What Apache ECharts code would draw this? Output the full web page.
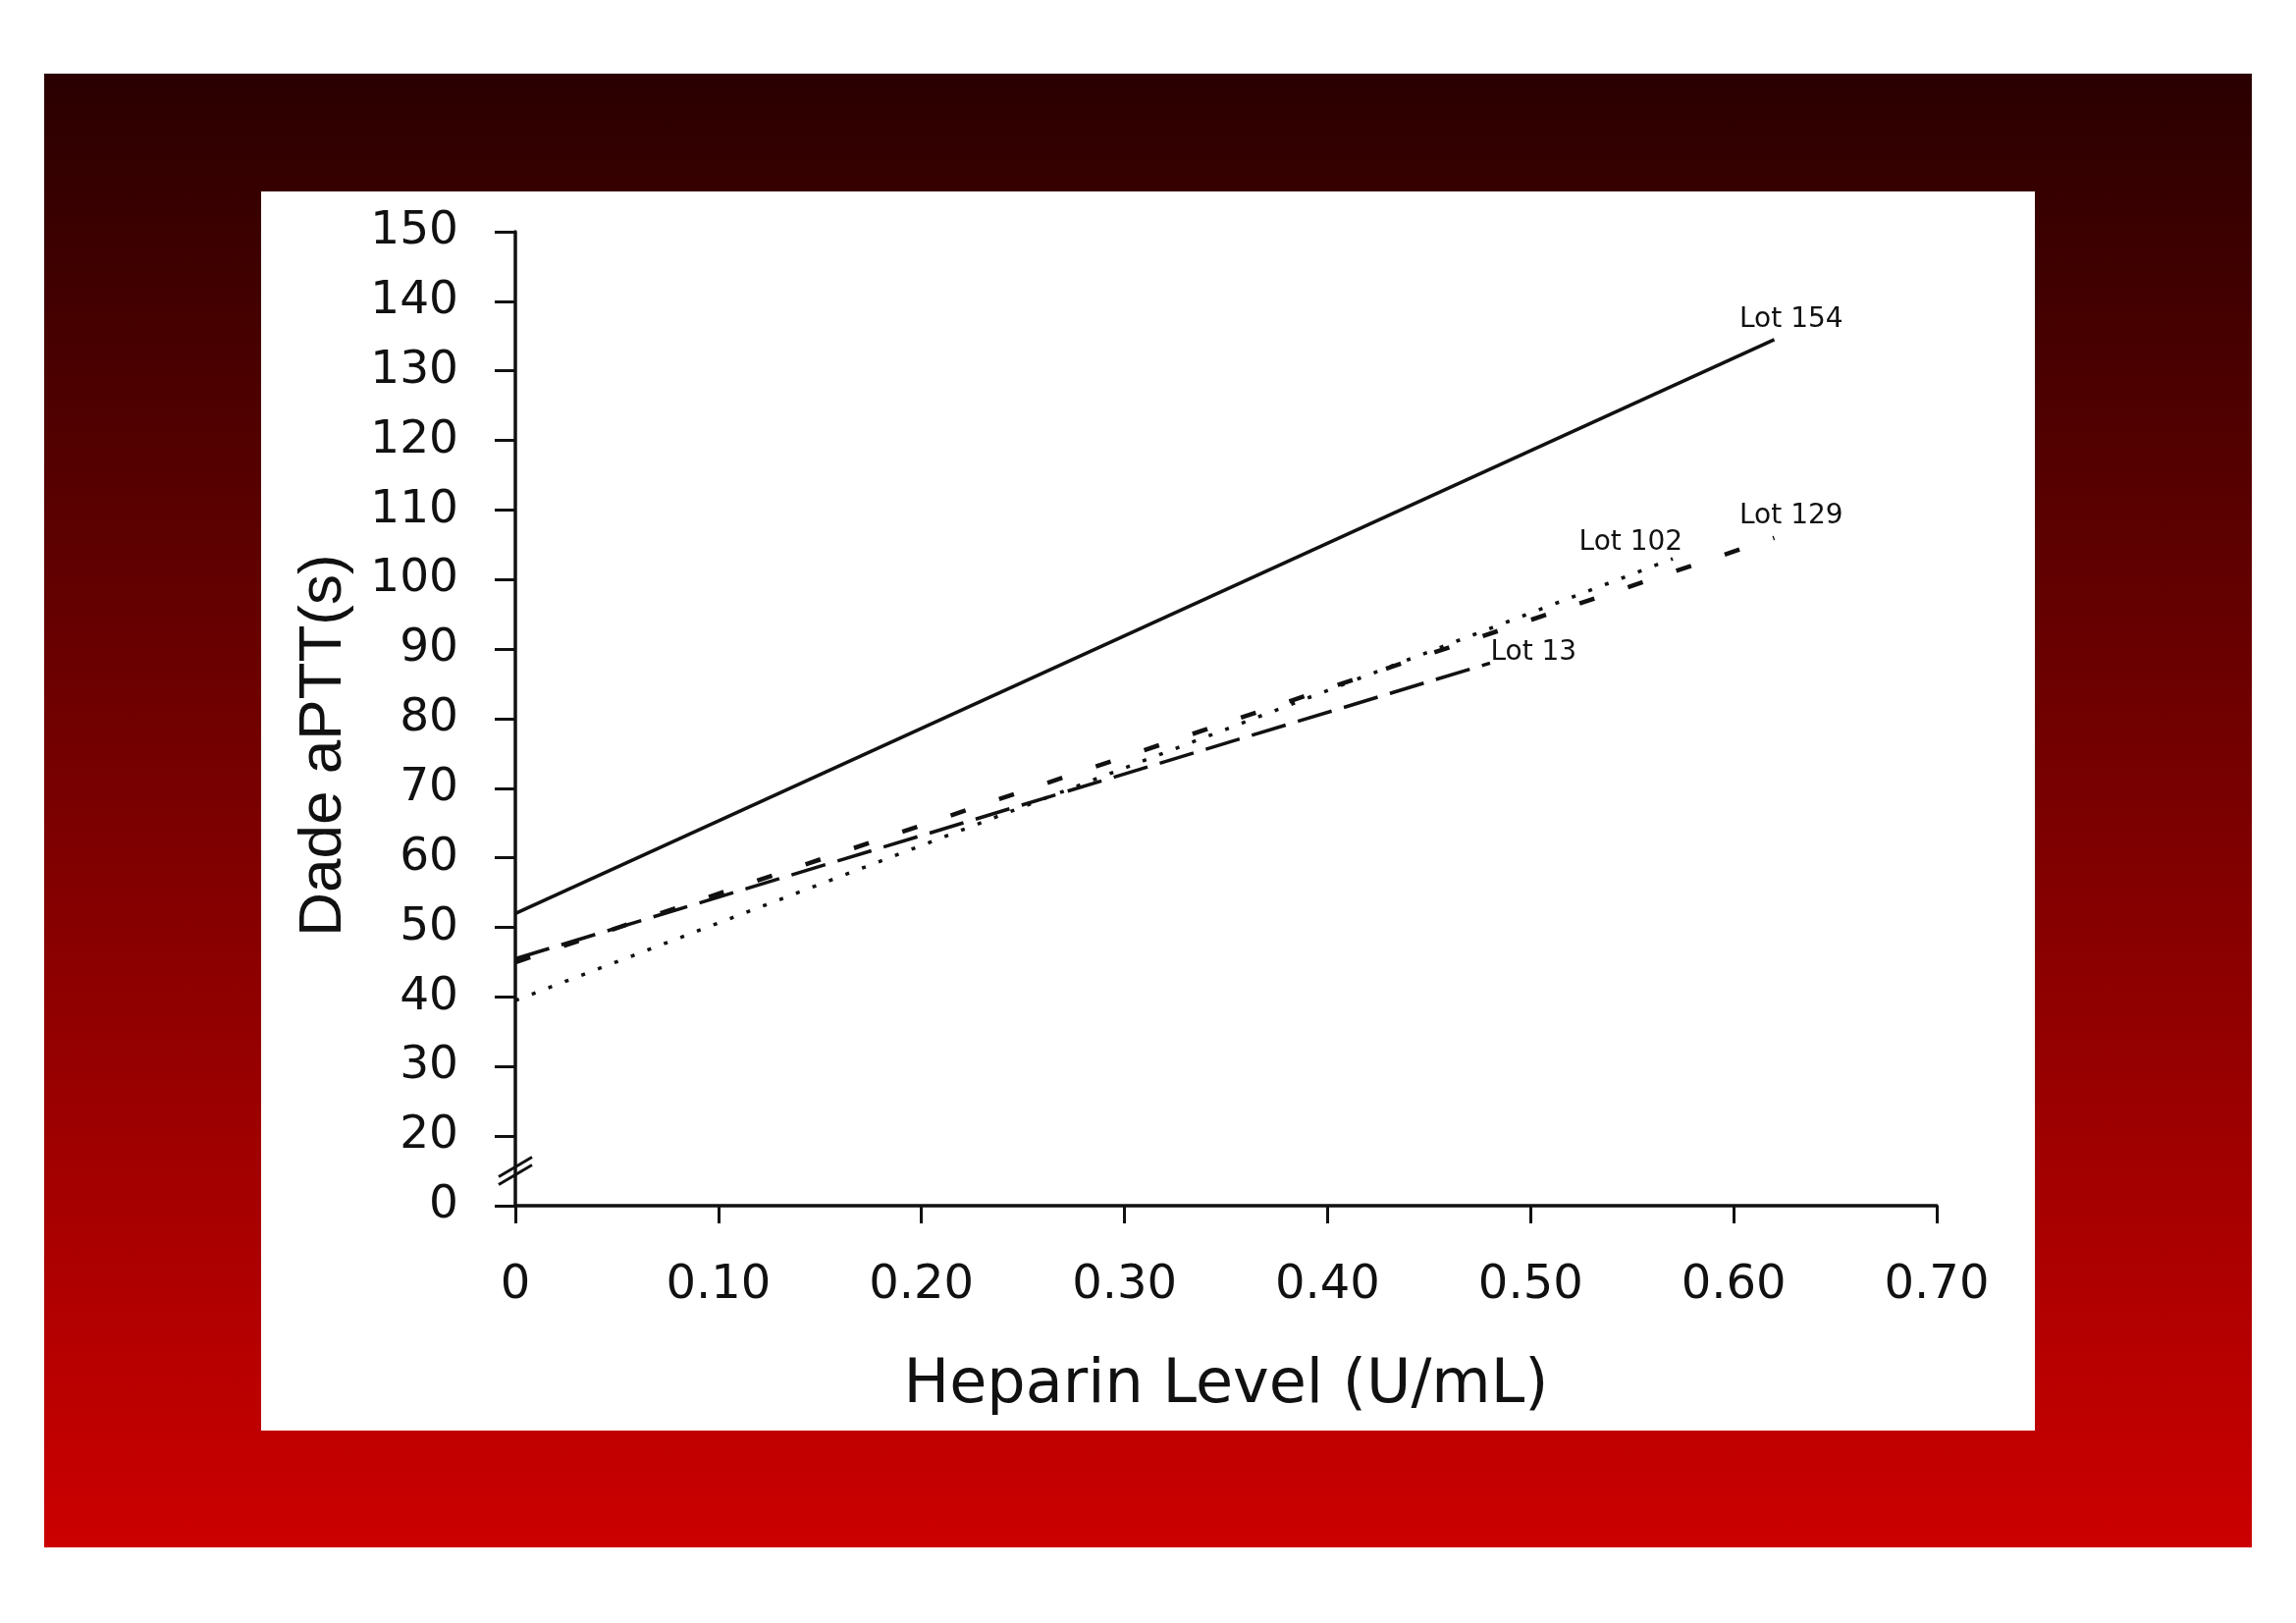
<!DOCTYPE html>
<html>
<head>
<meta charset="utf-8">
<script src="https://cdn.jsdelivr.net/npm/echarts@6/dist/echarts.min.js"></script>
<style>
html, body { margin: 0; padding: 0; background: #fff; }
#frame { position: absolute; left: 45px; top: 75px; width: 2249px; height: 1501px;
         background: linear-gradient(#2a0000, #cc0000); }
#panel { position: absolute; left: 266px; top: 195px; width: 1807px; height: 1262px; background: #fff; }
#main { position: absolute; left: 0; top: 0; width: 2339px; height: 1653px; }
</style>
</head>
<body>
<div id="frame"></div>
<div id="panel"></div>
<div id="main"></div>
<script>
// tick labels (the lowest y tick sits on the axis break and reads "0")
var xTicks = [0, 0.1, 0.2, 0.3, 0.4, 0.5, 0.6, 0.7];
var xTickLabels = ['0', '0.10', '0.20', '0.30', '0.40', '0.50', '0.60', '0.70'];
var yTicks = [10, 20, 30, 40, 50, 60, 70, 80, 90, 100, 110, 120, 130, 140, 150];
var yTickLabels = ['0', '20', '30', '40', '50', '60', '70', '80', '90', '100', '110', '120', '130', '140', '150'];

// regression lines (heparin U/mL, aPTT s)
var lotNames = ['Lot 154', 'Lot 129', 'Lot 102', 'Lot 13'];
var lot154X = [0, 0.62];
var lot154Y = [52, 134.5];
var lot129X = [0, 0.62];
var lot129Y = [45, 106];
var lot102X = [0, 0.57];
var lot102Y = [39.5, 103];
var lot13X = [0, 0.48];
var lot13Y = [45.5, 88];

var myChart = echarts.init(document.getElementById('main'));

var ink = '#111';

function pairs(xs, ys) {
  var out = [];
  for (let i = 0; i < xs.length; i++) {
    out.push([xs[i], ys[i]]);
  }
  return out;
}

// one line series, label put beside its last point
function lotSeries(name, xs, ys, dash, width, labelPos) {
  var data = pairs(xs, ys).map(function (p, i) {
    var d = { value: p };
    if (i === xs.length - 1) {
      d.label = {
        show: true,
        formatter: name,
        position: labelPos,
        align: 'left',
        verticalAlign: 'middle',
        fontFamily: 'DejaVu Sans',
        fontSize: 28,
        color: ink
      };
    }
    return d;
  });
  return {
    name: name,
    type: 'line',
    data: data,
    symbol: 'circle',
    symbolSize: 1,
    showSymbol: true,
    itemStyle: { color: 'rgba(0,0,0,0)' },
    lineStyle: { color: ink, width: width, type: dash, cap: 'butt' },
    label: { show: false },
    silent: true,
    z: 3
  };
}

var option = {
  animation: false,
  grid: { left: 525, right: 366, top: 236, bottom: 425 },
  xAxis: {
    type: 'value',
    min: 0,
    max: 0.7,
    interval: 0.1,
    name: 'Heparin Level (U/mL)',
    nameLocation: 'middle',
    nameGap: 153,
    nameTextStyle: { fontFamily: 'DejaVu Sans', fontSize: 62, color: ink },
    axisLine: { show: true, onZero: false, lineStyle: { color: ink, width: 3.5 } },
    axisTick: { show: true, length: 18, lineStyle: { color: ink, width: 3 } },
    axisLabel: {
      margin: 58,
      fontFamily: 'DejaVu Sans',
      fontSize: 48,
      color: ink,
      formatter: function (v) {
        var i = xTicks.findIndex(function (t) { return Math.abs(t - v) < 1e-6; });
        return i >= 0 ? xTickLabels[i] : '';
      }
    },
    splitLine: { show: false }
  },
  yAxis: {
    type: 'value',
    min: 10,
    max: 150,
    interval: 10,
    axisLine: { show: true, onZero: false, lineStyle: { color: ink, width: 3.5 } },
    axisTick: { show: true, length: 21, lineStyle: { color: ink, width: 3 } },
    axisLabel: {
      margin: 58,
      fontFamily: 'DejaVu Sans',
      fontSize: 47,
      color: ink,
      formatter: function (v) {
        var i = yTicks.indexOf(Math.round(v));
        return i >= 0 ? yTickLabels[i] : '';
      }
    },
    splitLine: { show: false }
  },
  series: [
    lotSeries(lotNames[0], lot154X, lot154Y, 'solid', 3.5, [-35, -20]),
    lotSeries(lotNames[1], lot129X, lot129Y, [16, 36], 4.5, [-35, -22]),
    lotSeries(lotNames[2], lot102X, lot102Y, [4, 14], 3.5, [-95, -16]),
    lotSeries(lotNames[3], lot13X, lot13Y, [36, 13], 3.5, [1, -10])
  ]
};
myChart.setOption(option);

// axis break mark and the rotated y title
var brk = myChart.convertToPixel({ gridIndex: 0 }, [0, 15]);
var mid = myChart.convertToPixel({ gridIndex: 0 }, [0, 80]);
myChart.setOption({
  graphic: [
    {
      type: 'line',
      shape: { x1: brk[0] - 17, y1: brk[1] + 14, x2: brk[0] + 17, y2: brk[1] - 6 },
      style: { stroke: ink, lineWidth: 3 }
    },
    {
      type: 'line',
      shape: { x1: brk[0] - 17, y1: brk[1] + 6, x2: brk[0] + 17, y2: brk[1] - 14 },
      style: { stroke: ink, lineWidth: 3 }
    },
    {
      type: 'text',
      x: 330,
      y: mid[1] + 27,
      rotation: Math.PI / 2,
      style: {
        text: 'Dade aPTT(s)',
        fontFamily: 'Liberation Sans',
        fontSize: 62,
        fill: ink,
        textAlign: 'center',
        textVerticalAlign: 'middle'
      }
    }
  ]
});
</script>
</body>
</html>
